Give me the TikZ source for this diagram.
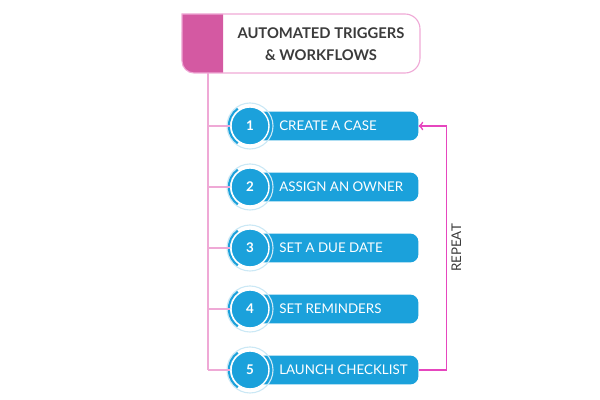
\documentclass[tikz,border=0pt]{standalone}
\usepackage{fontspec}
\setmainfont{Lato}
\usepackage{xcolor}
\usepackage{tikz}
\usetikzlibrary{arrows}

\definecolor{stepblue}{HTML}{1BA1DB}
\definecolor{ringblue}{HTML}{CBE8F5}
\definecolor{tabpink}{HTML}{D459A2}
\definecolor{linepink}{HTML}{EFA9D6}
\definecolor{repeatpink}{HTML}{E646BE}
\definecolor{titlegray}{HTML}{3B3B3B}

\begin{document}
\begin{tikzpicture}[x=0.025cm,y=0.025cm,
        stepbar/.style={anchor=west, fill=stepblue, rounded corners=0.2cm,
            minimum width=4.2cm, minimum height=0.72cm, inner sep=0pt},
        steptext/.style={anchor=west, text=white, inner sep=0pt,
            font=\fontsize{9.5}{11}\selectfont},
        stepnum/.style={circle, fill=stepblue, draw=white, line width=1pt,
            minimum size=0.95cm, inner sep=0pt, text=white,
            font=\bfseries\fontsize{9.5}{11}\selectfont},
        stepring/.style={draw=ringblue, line width=0.8pt},
        steparc/.style={draw=stepblue, line width=1.5pt},
        branch/.style={draw=linepink, line width=1pt},
        repeatline/.style={draw=repeatpink, line width=1.2pt}]
    \useasboundingbox (0,0) rectangle (600,400);

    % header
    \fill[tabpink] (182,386) -- (223,386) -- (223,327) -- (194,327)
        arc (270:180:0.3cm) -- cycle;
    \draw[linepink, line width=0.8pt] (182,386) -- (405,386)
        arc (90:0:0.375cm) -- (420,342) arc (0:-90:0.375cm) -- (194,327)
        arc (270:180:0.3cm) -- cycle;
    \node[text=titlegray, align=center,
        font=\bfseries\fontsize{10.5}{15.5}\selectfont] (Title) at (321,356)
        {AUTOMATED TRIGGERS\\\& WORKFLOWS};
    \coordinate (TabFoot) at (208,327);

    % steps
    \node[stepbar] (BarOne) at (250,274) {};
    \node[stepbar] (BarTwo) at (250,213) {};
    \node[stepbar] (BarThree) at (250,152) {};
    \node[stepbar] (BarFour) at (250,91) {};
    \node[stepbar] (BarFive) at (250,30) {};

    \node[steptext] (TextOne) at (279,274) {CREATE A CASE};
    \node[steptext] (TextTwo) at (279,213) {ASSIGN AN OWNER};
    \node[steptext] (TextThree) at (279,152) {SET A DUE DATE};
    \node[steptext] (TextFour) at (279,91) {SET REMINDERS};
    \node[steptext] (TextFive) at (279,30) {LAUNCH CHECKLIST};

    \node[stepnum] (NumOne) at (250,274) {1};
    \node[stepnum] (NumTwo) at (250,213) {2};
    \node[stepnum] (NumThree) at (250,152) {3};
    \node[stepnum] (NumFour) at (250,91) {4};
    \node[stepnum] (NumFive) at (250,30) {5};

    \draw[stepring] (NumOne.center) circle (0.575cm);
    \draw[stepring] (NumTwo.center) circle (0.575cm);
    \draw[stepring] (NumThree.center) circle (0.575cm);
    \draw[stepring] (NumFour.center) circle (0.575cm);
    \draw[stepring] (NumFive.center) circle (0.575cm);

    \draw[steparc] (NumOne.center) ++(125:0.53cm) arc (125:235:0.53cm);
    \draw[steparc] (NumTwo.center) ++(125:0.53cm) arc (125:235:0.53cm);
    \draw[steparc] (NumThree.center) ++(125:0.53cm) arc (125:235:0.53cm);
    \draw[steparc] (NumFour.center) ++(125:0.53cm) arc (125:235:0.53cm);
    \draw[steparc] (NumFive.center) ++(125:0.53cm) arc (125:235:0.53cm);

    % tree lines
    \draw[branch] (TabFoot) -- (TabFoot |- NumFive.center);
    \draw[branch] (TabFoot |- NumOne.center) -- (NumOne);
    \draw[branch] (TabFoot |- NumTwo.center) -- (NumTwo);
    \draw[branch] (TabFoot |- NumThree.center) -- (NumThree);
    \draw[branch] (TabFoot |- NumFour.center) -- (NumFour);
    \draw[branch] (TabFoot |- NumFive.center) -- (NumFive);

    \draw[repeatline,->] (BarFive.east) -- ++(28,0) |- (BarOne.east)
        node[pos=0.25, sloped, below, text=titlegray, inner sep=3pt,
            font=\fontsize{9.5}{11}\selectfont] {REPEAT};
\end{tikzpicture}
\end{document}
